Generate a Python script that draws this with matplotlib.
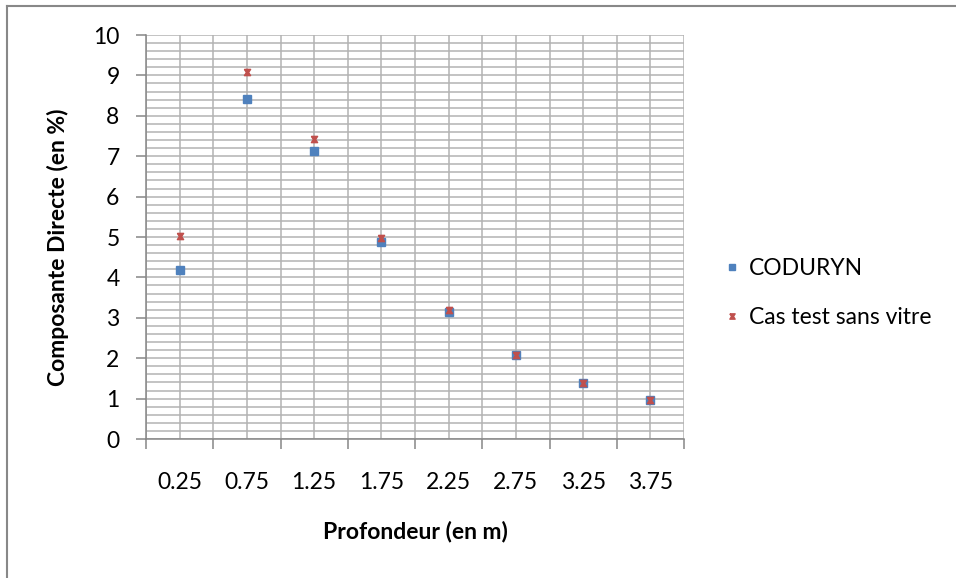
import matplotlib
matplotlib.use("Agg")
import matplotlib.pyplot as plt
import numpy as np
from matplotlib.ticker import MultipleLocator, FixedLocator

categories = ["0.25", "0.75", "1.25", "1.75", "2.25", "2.75", "3.25", "3.75"]
coduryn = [4.18, 8.42, 7.14, 4.87, 3.15, 2.07, 1.38, 0.96]
cas_test = [5.03, 9.09, 7.42, 4.98, 3.19, 2.08, 1.38, 0.96]

plt.rcParams['font.family'] = ['Lato', 'DejaVu Sans']

W, H = 956, 578
fig = plt.figure(figsize=(W/100, H/100), dpi=100)
left, right, top, bottom = 146, 684, 35, 439
ax = fig.add_axes([left/W, 1-bottom/H, (right-left)/W, (bottom-top)/H])

x = np.arange(len(categories)) + 0.5
hourglass = [(-1, 1), (1, 1), (0.35, 0), (1, -1), (-1, -1), (-0.35, 0), (-1, 1)]
ax.plot(x, coduryn, linestyle='none', marker='s', markersize=5.5,
        color='#4F81BD', label='CODURYN', zorder=3)
ax.plot(x, cas_test, linestyle='none', marker=hourglass, markersize=4.5,
        color='#C0504D', label='Cas test sans vitre', zorder=4)

ax.set_xlim(0, len(categories))
ax.set_ylim(0, 10)
ax.yaxis.set_major_locator(MultipleLocator(1))
ax.yaxis.set_minor_locator(MultipleLocator(0.2))
ax.xaxis.set_major_locator(FixedLocator(np.arange(len(categories)+1)))
ax.xaxis.set_minor_locator(FixedLocator(x))
ax.set_xticklabels([])
ax.set_xticklabels(categories, minor=True)

grid_c = '#B3B3B3'
ax.grid(True, which='both', color=grid_c, linewidth=1.1)
ax.set_axisbelow(True)
for s in ['top', 'right']:
    ax.spines[s].set_visible(False)
for s in ['left', 'bottom']:
    ax.spines[s].set_color('#868686')
    ax.spines[s].set_linewidth(1.1)

ax.tick_params(axis='y', which='major', length=7, width=1.1, color='#868686',
               labelsize=16.5, pad=12, labelcolor='black')
ax.tick_params(axis='y', which='minor', length=0)
ax.tick_params(axis='x', which='major', length=7, width=1.1, color='#868686')
ax.tick_params(axis='x', which='minor', length=0, labelsize=16.5, pad=24,
               labelcolor='black')

fig.text((left+right)/2/W, 1-531/H, 'Profondeur (en m)', fontsize=16.5,
         fontweight='bold', ha='center', va='center')
fig.text(58/W, 1-247/H, 'Composante Directe (en %)', fontsize=16.5,
         fontweight='bold', ha='center', va='center', rotation=90)

leg = fig.legend(loc='center left', bbox_to_anchor=(716/W, 1-293/H), frameon=False,
                 fontsize=16.5, handlelength=0.6, handletextpad=0.45, labelspacing=1.2,
                 borderaxespad=0, markerscale=0.85)

# outer chart frame
fig.add_artist(plt.Line2D([7/W, 7/W], [0, 1-6/H], transform=fig.transFigure,
                          color='#888888', linewidth=1.5))
fig.add_artist(plt.Line2D([7/W, 1], [1-6/H, 1-6/H], transform=fig.transFigure,
                          color='#888888', linewidth=1.5))

fig.savefig('out.png', dpi=100)
